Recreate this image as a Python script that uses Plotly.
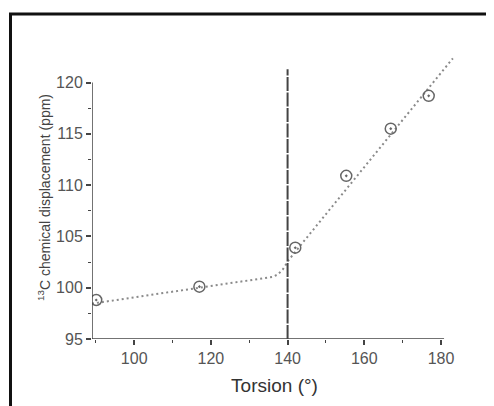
import plotly.graph_objects as go

# Data points (torsion in degrees, 13C chemical displacement in ppm)
torsion = [90.1, 117.0, 142.0, 155.3, 166.9, 176.8]
shift = [98.8, 100.1, 103.9, 110.9, 115.5, 118.7]

# Fitted (dotted) trend line
fit_x = [89.0, 128.0, 136.0, 137.5, 138.8, 140.3, 143.1, 183.1]
fit_y = [98.45, 100.6, 101.05, 101.3, 101.8, 102.7, 104.0, 122.36]

# Vertical marker line
vline_x = [140.0, 140.0]
vline_y = [95.0, 121.3]

x_ticks = [100, 120, 140, 160, 180]
x_minor = [90, 110, 130, 150, 170]
y_ticks = [95, 100, 105, 110, 115, 120]
y_minor = [97.5, 102.5, 107.5, 112.5, 117.5]

# the page body adds an 8px margin, so the figure is sized to fit the window
OFF = 8
W, H = 494 - OFF, 406 - OFF
L, T = 92 - OFF, 56 - OFF
pw, ph = 365, 283
R, B = W - L - pw, H - T - ph
x_range = [89, 89 + pw / 3.835]
y_range = [95, 95 + ph / 10.26]

axis_col = "#444444"
font = "Liberation Sans, Arial, sans-serif"

fig = go.Figure()
fig.add_trace(go.Scatter(x=fit_x, y=fit_y, mode="lines",
                         line=dict(color="#8a8a8a", width=2, dash="2px,3px"),
                         hoverinfo="skip", showlegend=False))
fig.add_trace(go.Scatter(x=vline_x, y=vline_y, mode="lines",
                         line=dict(color="#444444", width=2, dash="14px,1.5px"),
                         hoverinfo="skip", showlegend=False))
fig.add_trace(go.Scatter(x=torsion, y=shift, mode="markers",
                         marker=dict(symbol="circle-open-dot", size=11,
                                     color="#666666",
                                     line=dict(color="#666666", width=1.5)),
                         showlegend=False))

def px2paper_x(px):
    return (px - L) / pw

def px2paper_y(py):
    return 1 - (py - T) / ph

shapes = [
    # y axis line (stops at 120)
    dict(type="line", xref="x", yref="y", x0=x_range[0], x1=x_range[0],
         y0=95, y1=120, line=dict(color=axis_col, width=1.5)),
    # x axis line
    dict(type="line", xref="x", yref="y", x0=x_range[0], x1=180.8,
         y0=95, y1=95, line=dict(color=axis_col, width=1.5)),
    # outer black frame
    dict(type="rect", xref="paper", yref="paper",
         x0=px2paper_x(10.5 - OFF), x1=px2paper_x(W + 30),
         y0=px2paper_y(H + 30), y1=px2paper_y(14 - OFF),
         line=dict(color="#111111", width=3), layer="above"),
]

fig.update_layout(
    width=W, height=H,
    margin=dict(l=L, r=R, t=T, b=B, autoexpand=False),
    paper_bgcolor="white", plot_bgcolor="white",
    font=dict(family=font, color="#555555"),
    shapes=shapes,
    xaxis=dict(range=x_range, showgrid=False, zeroline=False, showline=False,
               automargin=False,
               tickmode="array", tickvals=x_ticks, ticks="outside",
               ticklen=5, tickwidth=1.5, tickcolor=axis_col,
               tickfont=dict(size=16, color="#555555"),
               minor=dict(tickmode="array", tickvals=x_minor, ticks="outside",
                          ticklen=3, tickwidth=1.2, tickcolor=axis_col),
               title=dict(text="Torsion (°)", font=dict(size=19, color="#333333"),
                          standoff=12)),
    yaxis=dict(range=y_range, showgrid=False, zeroline=False, showline=False,
               automargin=False,
               tickmode="array", tickvals=y_ticks, ticks="outside",
               ticklen=5, tickwidth=1.5, tickcolor=axis_col,
               tickfont=dict(size=16, color="#555555"),
               minor=dict(tickmode="array", tickvals=y_minor, ticks="outside",
                          ticklen=3, tickwidth=1.2, tickcolor=axis_col),
               title=dict(text="<sup>13</sup>C chemical displacement (ppm)",
                          font=dict(size=14, color="#444444"), standoff=2)),
)

fig.write_html("out.html")
